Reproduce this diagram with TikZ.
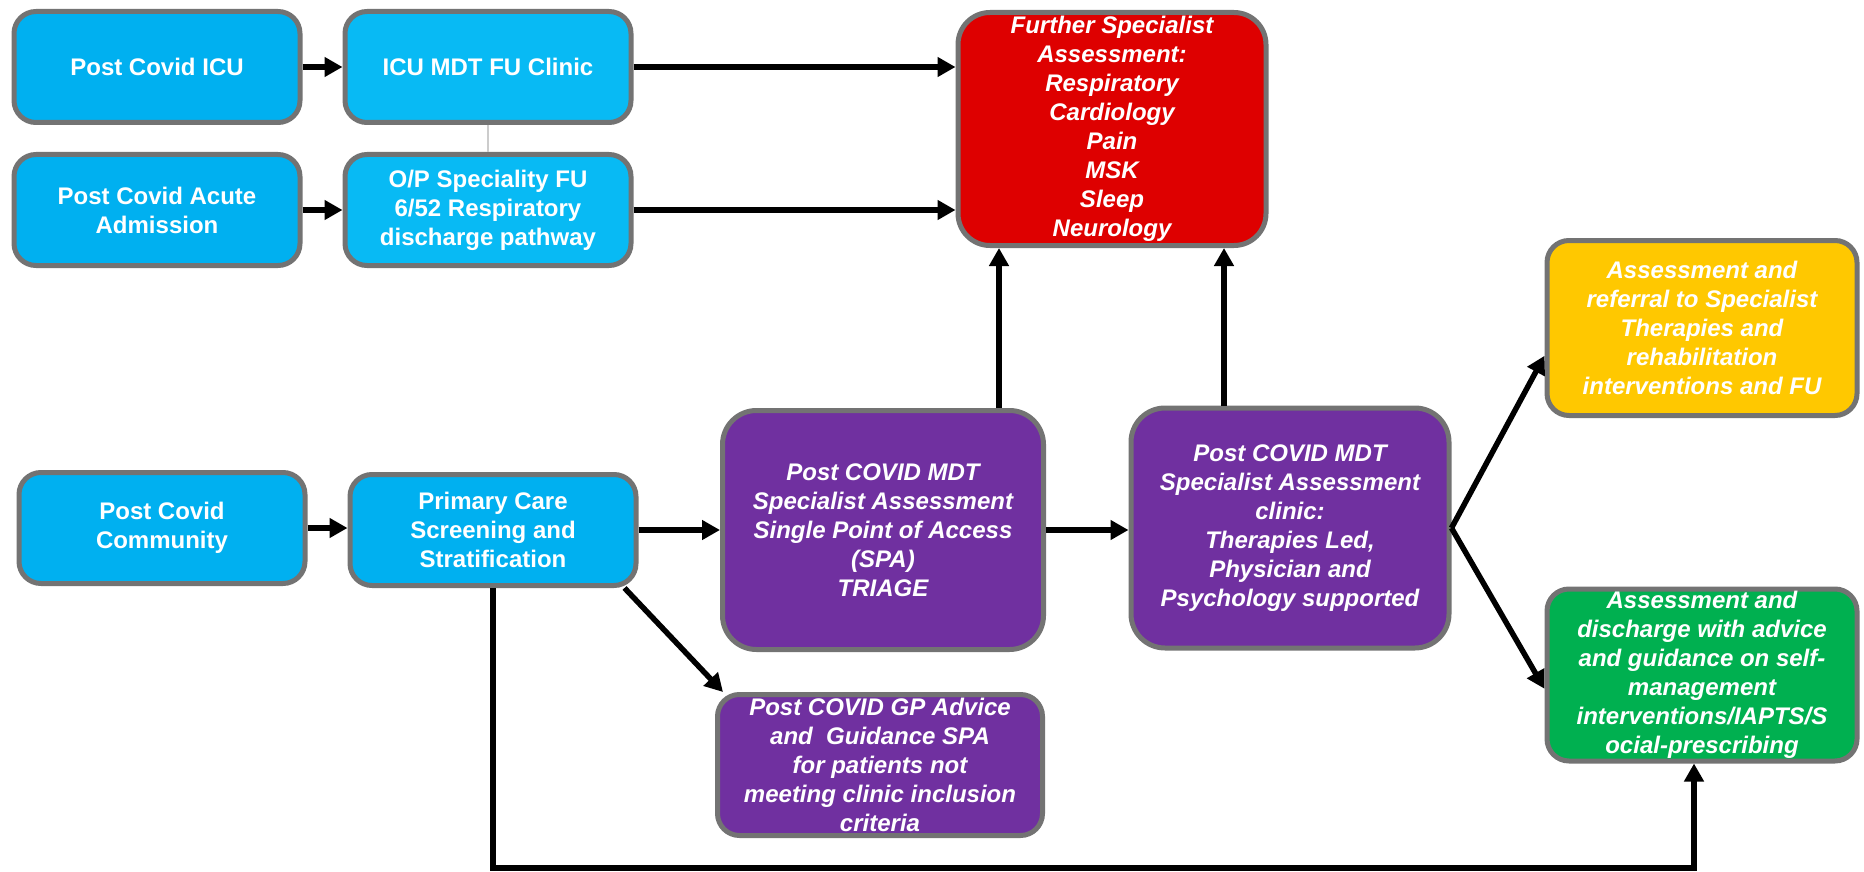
\documentclass[tikz,border=0pt]{standalone}
\usepackage{fontspec}
\setmainfont{Liberation Sans}
\usepackage{tikz}
\usetikzlibrary{arrows.meta}

\definecolor{covidblue}{HTML}{00B0F0}
\definecolor{clinicblue}{HTML}{08BAF4}
\definecolor{covidred}{HTML}{DE0000}
\definecolor{covidpurple}{HTML}{7030A0}
\definecolor{covidyellow}{HTML}{FFC800}
\definecolor{covidgreen}{HTML}{00B050}
\newcommand{\boxfont}{\fontsize{24}{29}\selectfont\bfseries}

\tikzset{
  box/.style={rounded corners=22pt, draw=black!55, line width=5pt, text=white,
    align=center, inner sep=2pt, font=\boxfont},
  bluebox/.style={box, fill=covidblue, minimum width=286pt, minimum height=111pt},
  itbox/.style={box, font=\boxfont\itshape},
  flow/.style={line width=5.5pt, -{Triangle[length=18pt,width=19pt]}},
}

\begin{document}
\begin{tikzpicture}[x=1pt, y=-1pt]
  \useasboundingbox (0,0) rectangle (1864,872);

  % Hospital pathways (top left)
  \node[bluebox] (icu) at (157,67) {Post Covid ICU};
  \node[bluebox, fill=clinicblue] (mdt) at (488,67) {ICU MDT FU Clinic};
  \node[bluebox] (acute) at (157,210) {Post Covid Acute\\Admission};
  \node[bluebox, fill=clinicblue] (opfu) at (488,210) {O/P Speciality FU\\6/52 Respiratory\\discharge pathway};

  % Community pathway
  \node[bluebox] (community) at (162,528) {Post Covid\\Community};
  \node[bluebox] (primary) at (493,530) {Primary Care\\Screening and\\Stratification};

  % Specialist services
  \node[itbox, fill=covidred, rounded corners=32pt, minimum width=308pt, minimum height=233pt]
    (further) at (1112,129) {Further Specialist\\Assessment:\\Respiratory\\Cardiology\\Pain\\MSK\\Sleep\\Neurology};
  \node[itbox, fill=covidpurple, rounded corners=34pt, minimum width=321pt, minimum height=239pt]
    (spa) at (883,530) {Post COVID MDT\\Specialist Assessment\\Single Point of Access\\(SPA)\\TRIAGE};
  \node[itbox, fill=covidpurple, rounded corners=34pt, minimum width=318pt, minimum height=240pt]
    (clinic) at (1290,528) {Post COVID MDT\\Specialist Assessment\\clinic:\\Therapies Led,\\Physician and\\Psychology supported};
  \node[itbox, fill=covidpurple, minimum width=325pt, minimum height=141pt]
    (gp) at (880,765) {Post COVID GP Advice\\and\ \ Guidance SPA\\for patients not\\meeting clinic inclusion\\criteria};

  % Outcomes
  \node[itbox, fill=covidyellow, minimum width=310pt, minimum height=175pt]
    (rehab) at (1702,328) {Assessment and\\referral to Specialist\\Therapies and\\rehabilitation\\interventions and FU};
  \node[itbox, fill=covidgreen, minimum width=310pt, minimum height=172pt]
    (discharge) at (1702,675) {Assessment and\\discharge with advice\\and guidance on self-\\management\\interventions/IAPTS/S\\ocial-prescribing};

  % Connectors
  \draw[black!20, line width=2pt] (mdt.south) -- (opfu.north);
  \draw[flow] (icu) -- (mdt);
  \draw[flow] (mdt.east) -- (mdt.east -| further.west);
  \draw[flow] (acute) -- (opfu);
  \draw[flow] (opfu.east) -- (opfu.east -| further.west);
  \draw[flow] ([xshift=116pt]spa.north) -- ([xshift=116pt]spa.north |- further.south);
  \draw[flow] ([xshift=-66pt]clinic.north) -- ([xshift=-66pt]clinic.north |- further.south);
  \draw[flow] (community.east) -- (community.east -| primary.west);
  \draw[flow] (primary) -- (spa);
  \draw[flow] (spa.east) -- (spa.east -| clinic.west);
  \draw[flow] (clinic.east) -- (rehab.190);
  \draw[flow] (clinic.east) -- (discharge.185);
  \draw[flow] ([xshift=-14pt]primary.south east) -- ([xshift=8pt]gp.north west);
  \coordinate (low) at (0,868);
  \draw[flow] (primary.south) -- (primary.south |- low) -| ([xshift=-8pt]discharge.south);
\end{tikzpicture}
\end{document}
